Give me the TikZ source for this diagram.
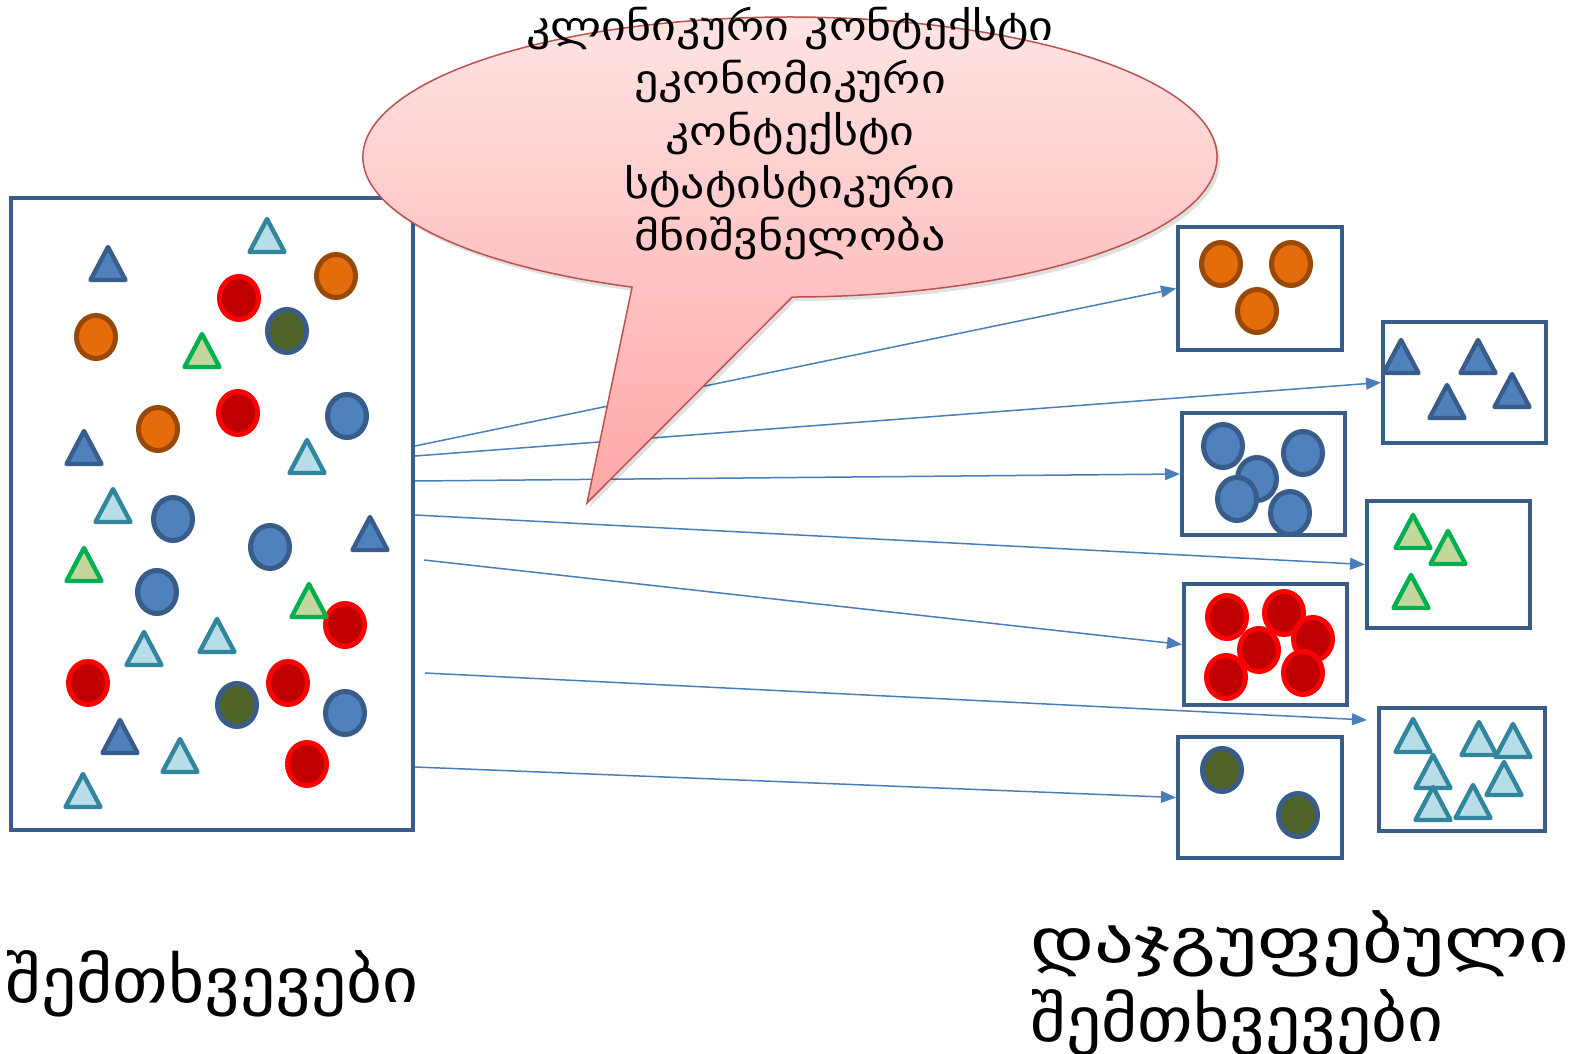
\documentclass[tikz,border=0pt]{standalone}
\usepackage{fontspec}
\newfontfamily\geo{DejaVu Sans}
\usetikzlibrary{arrows.meta}
\definecolor{boxblue}{HTML}{385D8A}
\definecolor{arrowblue}{HTML}{4A7EBB}
\definecolor{orfill}{HTML}{E46C0A}
\definecolor{ordraw}{HTML}{984807}
\definecolor{redfill}{HTML}{C00000}
\definecolor{reddraw}{HTML}{FF0000}
\definecolor{olfill}{HTML}{4F6228}
\definecolor{blfill}{HTML}{4F81BD}
\definecolor{ltfill}{HTML}{B7DEE8}
\definecolor{ltdraw}{HTML}{31859C}
\definecolor{grfill}{HTML}{C3D69B}
\definecolor{grdraw}{HTML}{00B050}
\definecolor{calldraw}{HTML}{C0504D}
\definecolor{calltop}{HTML}{FFE6E6}
\definecolor{callbot}{HTML}{FFA6A6}
\newcommand\myball[3]{\draw[#1] (#2,#3) ellipse [x radius=9.75pt, y radius=10.75pt];}
\newcommand\mytri[3]{\draw[#1] (#2,#3) ++(0,-16) -- ++(17.5,33) -- ++(-35,0) -- cycle;}
\newcommand\widen[2]{\scalebox{#1}[1]{#2}}
\begin{document}
\begin{tikzpicture}[x=0.5pt,y=-0.5pt,
  ballstyle/.style={line width=2.5pt},
  tristyle/.style={line width=2.2pt, line join=round},
  orball/.style={ballstyle, fill=orfill, draw=ordraw},
  redball/.style={ballstyle, fill=redfill, draw=reddraw},
  olball/.style={ballstyle, fill=olfill, draw=boxblue},
  blball/.style={ballstyle, fill=blfill, draw=boxblue},
  dktri/.style={tristyle, fill=blfill, draw=boxblue},
  lttri/.style={tristyle, fill=ltfill, draw=ltdraw},
  grtri/.style={tristyle, fill=grfill, draw=grdraw},
  groupbox/.style={draw=boxblue, line width=2pt, fill=white, inner sep=0pt},
  link/.style={draw=arrowblue, line width=0.75pt, -{Triangle[length=7.5pt,width=6pt]}},
  callout/.style={draw=calldraw, line width=0.75pt, top color=calltop, bottom color=callbot},
  calloutshadow/.style={fill=black, opacity=0.12},
  geotext/.style={font=\geo, text=black, inner sep=0pt}
]
\useasboundingbox (0,0) rectangle (1570,1054);

% boxes
\node[groupbox, minimum width=201pt, minimum height=316pt] (src) at (212,514) {};
\node[groupbox, minimum width=82pt, minimum height=61.5pt] (gor) at (1260,288.5) {};
\node[groupbox, minimum width=81.5pt, minimum height=60.5pt] (gdk) at (1464.5,382.5) {};
\node[groupbox, minimum width=81.5pt, minimum height=61pt] (gbl) at (1263.5,474) {};
\node[groupbox, minimum width=81.5pt, minimum height=63.5pt] (ggr) at (1448.5,564.5) {};
\node[groupbox, minimum width=81.5pt, minimum height=60.5pt] (grd) at (1265.5,644.5) {};
\node[groupbox, minimum width=83pt, minimum height=61.5pt] (glt) at (1462,769.5) {};
\node[groupbox, minimum width=82pt, minimum height=60.5pt] (gol) at (1260,797.5) {};

% left shapes
\mytri{dktri}{108}{263}
\mytri{lttri}{267}{235}
\myball{orball}{336}{276}
\myball{redball}{239}{298}
\myball{olball}{287}{331}
\myball{orball}{96}{337}
\mytri{grtri}{202}{350}
\myball{redball}{238}{413}
\myball{blball}{347}{416}
\myball{orball}{158}{429}
\mytri{dktri}{84}{447}
\mytri{lttri}{307}{456}
\mytri{lttri}{113}{505}
\myball{blball}{173}{519}
\myball{blball}{270}{547}
\mytri{dktri}{370}{533}
\mytri{grtri}{84}{564}
\myball{blball}{157}{592}
\myball{redball}{345}{625}
\mytri{grtri}{309}{600}
\mytri{lttri}{217}{635}
\mytri{lttri}{144}{648}
\myball{redball}{88}{683}
\myball{redball}{288}{683}
\myball{olball}{237}{705}
\myball{blball}{345}{713}
\mytri{dktri}{120}{736}
\mytri{lttri}{180}{755}
\myball{redball}{307}{764}
\mytri{lttri}{83}{790}

% right shapes
\myball{orball}{1221}{264}
\myball{orball}{1291}{264}
\myball{orball}{1257}{311}

\mytri{dktri}{1401}{356}
\mytri{dktri}{1478}{356}
\mytri{dktri}{1447}{401}
\mytri{dktri}{1512}{390}

\myball{blball}{1223}{446}
\myball{blball}{1303}{453}
\myball{blball}{1257}{479}
\myball{blball}{1237}{499}
\myball{blball}{1290}{513}

\mytri{grtri}{1413}{531}
\mytri{grtri}{1448}{547}
\mytri{grtri}{1411}{591}

\myball{redball}{1227}{617}
\myball{redball}{1284}{613}
\myball{redball}{1313}{639}
\myball{redball}{1259}{650}
\myball{redball}{1226}{677}
\myball{redball}{1303}{673}

\mytri{lttri}{1413}{735}
\mytri{lttri}{1479}{738}
\mytri{lttri}{1513}{740}
\mytri{lttri}{1433}{771}
\mytri{lttri}{1504}{778}
\mytri{lttri}{1433}{803}
\mytri{lttri}{1473}{801}

\myball{olball}{1222}{770}
\myball{olball}{1298}{815}

% arrows
\coordinate (s1) at (415,446);
\coordinate (s2) at (415,456);
\coordinate (s3) at (415,481);
\coordinate (s4) at (415,515);
\coordinate (s5) at (424,560);
\coordinate (s6) at (425,673);
\coordinate (s7) at (415,767);
\coordinate (e6) at (1367,720);
\draw[link] (s1) -- (gor.west);
\draw[link] (s2) -- (gdk.west);
\draw[link] (s3) -- (gbl.west);
\draw[link] (s4) -- (ggr.west);
\draw[link] (s5) -- (grd.west);
\draw[link] (s6) -- (e6);
\draw[link] (s7) -- (gol.west);

% callout
\path[calloutshadow] (590,507) -- (635.1,291.1)
  arc[start angle=248.3, end angle=-89.7, x radius=213.5pt, y radius=70pt] -- cycle;
\path[callout] (587,503) -- (632.1,287.1)
  arc[start angle=248.3, end angle=-89.7, x radius=213.5pt, y radius=70pt] -- cycle;
\node[geotext, font=\geo\fontsize{20pt}{26.25pt}\selectfont, align=center] (ctext) at (790,134)
  {\widen{1.2}{კლინიკური კონტექსტი}\\\widen{1.2}{ეკონომიკური}\\\widen{1.2}{კონტექსტი}\\\widen{1.2}{სტატისტიკური}\\\widen{1.2}{მნიშვნელობა}};

% labels
\node[geotext, font=\geo\fontsize{31pt}{36pt}\selectfont, anchor=base west] (lcases) at (5,1002) {\widen{1.12}{შემთხვევები}};
\node[geotext, font=\geo\fontsize{31pt}{39.5pt}\selectfont, anchor=base west, align=left] (rcases) at (1030,1041) {\widen{1.27}{დაჯგუფებული}\\\widen{1.12}{შემთხვევები}};
\end{tikzpicture}
\end{document}
